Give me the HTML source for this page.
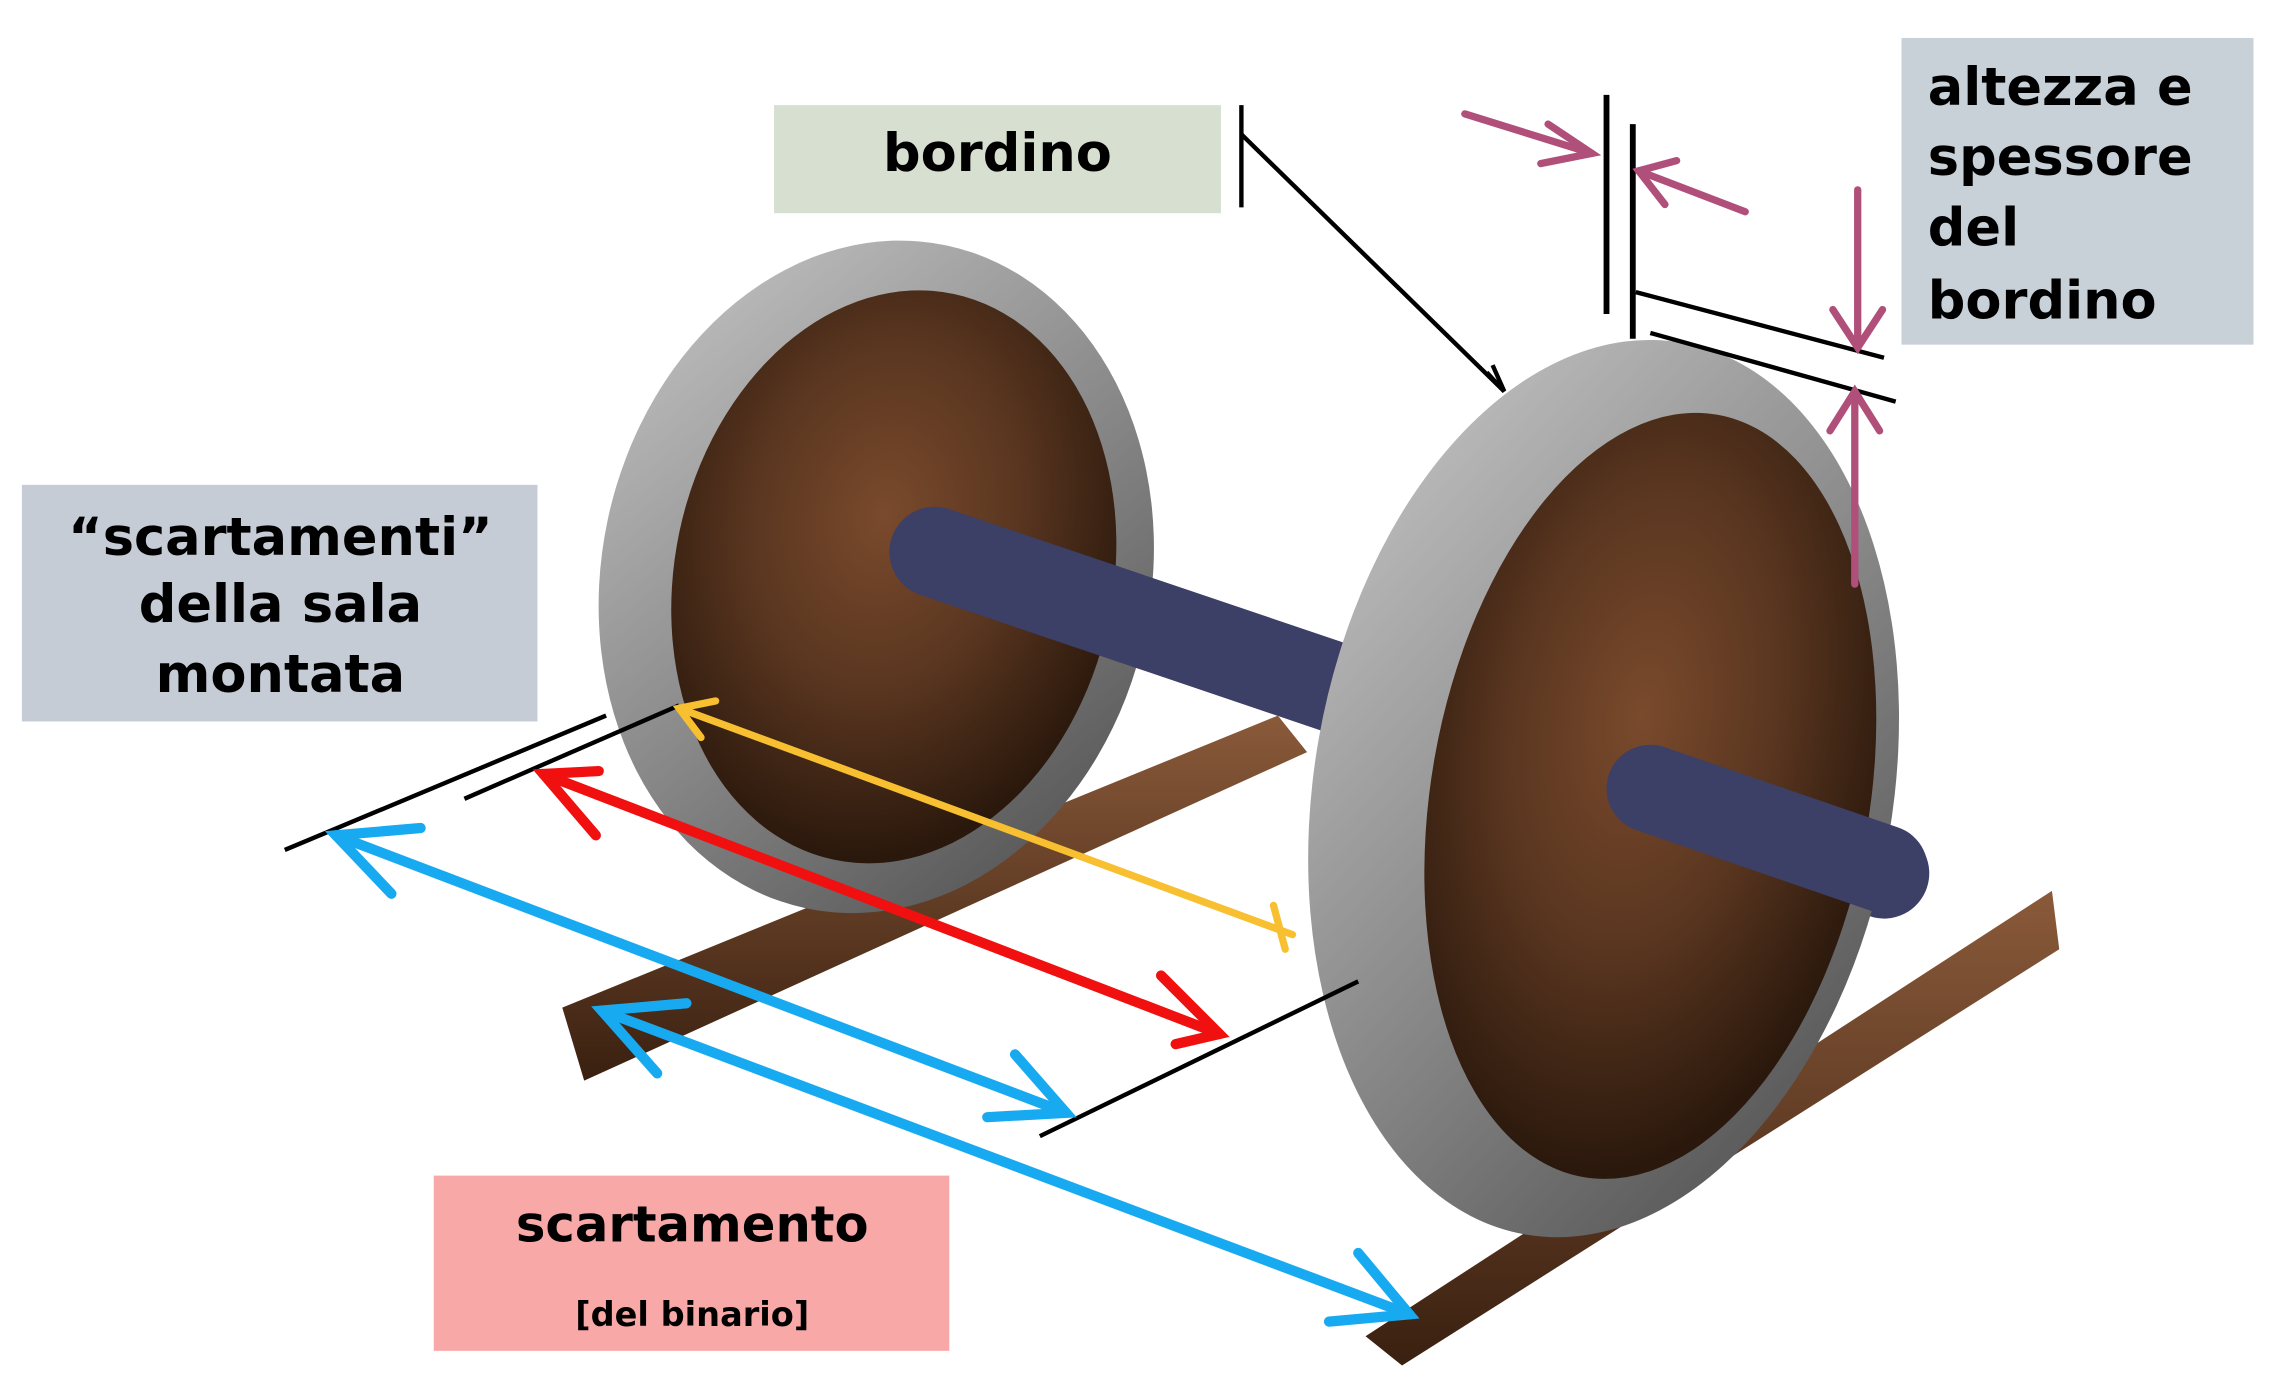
<!DOCTYPE html>
<html><head><meta charset="utf-8"><style>
html,body{margin:0;padding:0;background:#fff;}
svg{display:block;}
text{font-family:"DejaVu Sans","Liberation Sans",sans-serif;font-weight:bold;fill:#000;}
</style></head><body>
<svg width="2290" height="1378" viewBox="0 0 1568 943.6" preserveAspectRatio="none" xmlns="http://www.w3.org/2000/svg">
<defs>
<radialGradient id="disk" cx="0.45" cy="0.4" r="0.6">
<stop offset="0" stop-color="#7a4a2c"/><stop offset="0.5" stop-color="#5a3620"/><stop offset="1" stop-color="#2a180c"/>
</radialGradient>
<linearGradient id="rim" x1="0" y1="0" x2="1" y2="1">
<stop offset="0" stop-color="#c8c8c8"/><stop offset="0.5" stop-color="#8a8a8a"/><stop offset="1" stop-color="#4a4a4a"/>
</linearGradient>
<linearGradient id="rail" x1="0" y1="0" x2="0" y2="1">
<stop offset="0" stop-color="#8a5a3a"/><stop offset="1" stop-color="#3a2010"/>
</linearGradient>
</defs>
<rect width="1568" height="944" fill="#fff"/>
<polygon points="385,690 875,490 895,515 400,740" fill="url(#rail)"/>
<polygon points="935,915 1405,610 1410,650 960,935" fill="url(#rail)"/>
<ellipse cx="600" cy="395" rx="188" ry="232" transform="rotate(12 600 395)" fill="url(#rim)"/>
<ellipse cx="612" cy="395" rx="150" ry="198" transform="rotate(12 612 395)" fill="url(#disk)"/>
<line x1="640" y1="378" x2="1290" y2="598" stroke="#3c3f66" stroke-width="62" stroke-linecap="round"/>
<ellipse cx="1098" cy="540" rx="198" ry="310" transform="rotate(10 1098 540)" fill="url(#rim)"/>
<ellipse cx="1130" cy="545" rx="150" ry="265" transform="rotate(10 1130 545)" fill="url(#disk)"/>
<line x1="1130" y1="540" x2="1290" y2="595" stroke="#3c3f66" stroke-width="60" stroke-linecap="round"/>
<g stroke="#000" stroke-width="3" fill="none">
<line x1="195" y1="582" x2="415" y2="490"/>
<line x1="318" y1="547" x2="465" y2="483"/>
<line x1="712" y1="778" x2="930" y2="672"/>
<line x1="850" y1="72" x2="850" y2="142"/>
<line x1="850" y1="92" x2="1030" y2="268"/>
<polyline points="1018,255 1030,268 1022,250"/>
<line x1="1100" y1="65" x2="1100" y2="215" stroke-width="4"/>
<line x1="1118" y1="85" x2="1118" y2="232" stroke-width="4"/>
<line x1="1120" y1="200" x2="1290" y2="245"/>
<line x1="1130" y1="228" x2="1298" y2="275"/>
</g>
<g fill="none" stroke-linecap="round">
<g stroke="#f8c030" stroke-width="5"><line x1="465" y1="485" x2="885" y2="640"/><polyline points="490,480 465,485 480,505"/><line x1="872" y1="620" x2="880" y2="650"/></g>
<g stroke="#f01010" stroke-width="7"><line x1="372" y1="530" x2="835" y2="708"/><polyline points="410,528 372,530 408,572"/><polyline points="795,668 835,708 805,715"/></g>
<g stroke="#18aaf0" stroke-width="7"><line x1="230" y1="572" x2="730" y2="762"/><polyline points="288,567 230,572 268,612"/><polyline points="695,722 730,762 676,765"/>
<line x1="412" y1="692" x2="965" y2="900"/><polyline points="470,687 412,692 450,735"/><polyline points="930,858 965,900 910,905"/></g>
<g stroke="#b0507a" stroke-width="5"><line x1="1003" y1="78" x2="1090" y2="105"/><polyline points="1060,85 1090,105 1055,112"/>
<line x1="1195" y1="145" x2="1122" y2="117"/><polyline points="1148,110 1122,117 1140,140"/>
<line x1="1272" y1="130" x2="1272" y2="238"/><polyline points="1255,212 1272,238 1289,212"/>
<line x1="1270" y1="400" x2="1270" y2="268"/><polyline points="1253,295 1270,268 1287,295"/></g>
</g>
<rect x="530" y="72" width="306" height="74" fill="#d3dbcb" opacity="0.9"/>
<text x="683" y="117" font-size="36" text-anchor="middle">bordino</text>
<rect x="1302" y="26" width="241" height="210" fill="#c8d0d8"/>
<g font-size="36"><text x="1320" y="72">altezza e</text><text x="1320" y="120">spessore</text><text x="1320" y="168">del</text><text x="1320" y="218">bordino</text></g>
<rect x="15" y="332" width="353" height="162" fill="#c5ccd6"/>
<g font-size="36" text-anchor="middle"><text x="192" y="380">“scartamenti”</text><text x="192" y="426">della sala</text><text x="192" y="474">montata</text></g>
<rect x="297" y="805" width="353" height="120" fill="#f9a8a8"/>
<text x="474" y="850" font-size="34" text-anchor="middle">scartamento</text>
<text x="474" y="908" font-size="23" text-anchor="middle">[del binario]</text>
</svg>
</body></html>
